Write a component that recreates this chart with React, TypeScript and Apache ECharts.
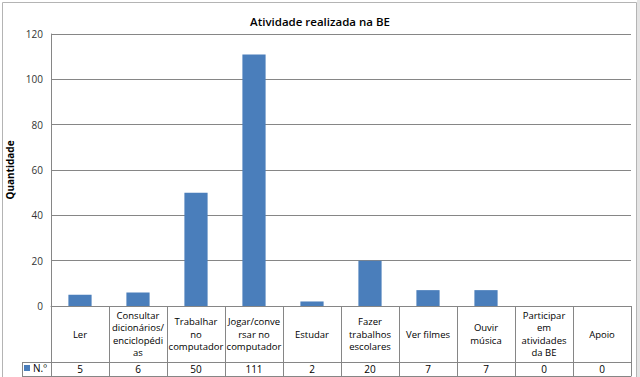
import React, { useEffect, useRef } from "react";
import * as echarts from "echarts";

const categories = [
  "Ler",
  "Consultar\ndicionários/\nenciclopédi\nas",
  "Trabalhar\nno\ncomputador",
  "Jogar/conve\nrsar no\ncomputador",
  "Estudar",
  "Fazer\ntrabalhos\nescolares",
  "Ver filmes",
  "Ouvir\nmúsica",
  "Participar\nem\natividades\nda BE",
  "Apoio",
];
const values = [5, 6, 50, 111, 2, 20, 7, 7, 0, 0];
const seriesName = "N.º";
const yTicks = { min: 0, max: 120, interval: 20 };

const FONT = "'Open Sans', 'Noto Sans', sans-serif";
const LINE = "#868686";

export default function App() {
  const ref = useRef<HTMLDivElement>(null);
  useEffect(() => {
    if (!ref.current) return;
    const chart = echarts.init(ref.current, undefined, { renderer: "svg" });
    chart.setOption({
      animation: false,
      backgroundColor: "#ffffff",
      title: {
        text: "Atividade realizada na BE",
        left: "center",
        top: 10,
        textStyle: { fontSize: 11.5, fontWeight: 600, color: "#000", fontFamily: FONT },
      },
      legend: {
        data: [seriesName],
        left: 24,
        top: 363,
        itemWidth: 6,
        itemHeight: 6,
        itemGap: 2,
        icon: "rect",
        padding: 0,
        textStyle: { fontSize: 10, color: "#000", fontFamily: FONT, padding: [0, 0, 0, -2] },
      },
      grid: { left: 51, right: 9, top: 34, bottom: 71, outerBoundsMode: "none", containLabel: false },
      xAxis: [
        {
          type: "category",
          data: categories,
          boundaryGap: true,
          axisLine: { show: true, lineStyle: { color: LINE, width: 1 } },
          axisTick: { show: true, length: 70, interval: 0, lineStyle: { color: LINE, width: 1 } },
          axisLabel: {
            interval: 0,
            margin: 28,
            verticalAlign: "middle",
            fontSize: 9.5,
            lineHeight: 12.5,
            color: "#000",
            fontFamily: FONT,
          },
          splitLine: { show: false },
        },
        {
          type: "category",
          data: values.map((v) => String(v)),
          position: "bottom",
          offset: 56,
          boundaryGap: true,
          axisLine: { show: true, lineStyle: { color: LINE, width: 1 } },
          axisTick: { show: false },
          axisLabel: { interval: 0, margin: 7, verticalAlign: "middle", fontSize: 10, color: "#000", fontFamily: FONT },
          splitLine: { show: false },
        },
        {
          type: "category",
          data: values.map((v) => String(v)),
          position: "bottom",
          offset: 70,
          axisLine: { show: true, lineStyle: { color: LINE, width: 1 } },
          axisTick: { show: false },
          axisLabel: { show: false },
        },
      ],
      yAxis: {
        type: "value",
        min: yTicks.min,
        max: yTicks.max,
        interval: yTicks.interval,
        name: "Quantidade",
        nameLocation: "middle",
        nameRotate: 90,
        nameGap: 35,
        nameTextStyle: { fontSize: 10, fontWeight: "bold", color: "#000", fontFamily: FONT },
        axisLine: { show: true, lineStyle: { color: LINE, width: 1 } },
        axisTick: { show: false },
        axisLabel: { margin: 8, fontSize: 10, color: "#333", fontFamily: FONT },
        splitLine: { show: true, lineStyle: { color: LINE, width: 1 } },
      },
      series: [
        {
          name: seriesName,
          type: "bar",
          xAxisIndex: 0,
          data: values,
          barWidth: "40%",
          itemStyle: { color: "#4a7ebb", borderWidth: 0 },
        },
      ],
      graphic: [
        { type: "rect", shape: { x: 2.5, y: 2.5, width: 634, height: 400 }, style: { fill: "none", stroke: "#b4b4b4", lineWidth: 1 }, silent: true },
        { type: "rect", shape: { x: 637, y: 0, width: 3, height: 377 }, style: { fill: "#e4e4e4" }, silent: true },
        { type: "line", shape: { x1: 22, y1: 362.5, x2: 51, y2: 362.5 }, style: { stroke: LINE, lineWidth: 1 }, silent: true },
        { type: "line", shape: { x1: 22, y1: 376.5, x2: 51, y2: 376.5 }, style: { stroke: LINE, lineWidth: 1 }, silent: true },
        { type: "line", shape: { x1: 22.5, y1: 362, x2: 22.5, y2: 377 }, style: { stroke: LINE, lineWidth: 1 }, silent: true },
      ],
    });
    return () => chart.dispose();
  }, []);
  return (
    <div
      ref={ref}
      style={{ position: "fixed", left: 0, top: 0, width: 640, height: 377 }}
    />
  );
}
